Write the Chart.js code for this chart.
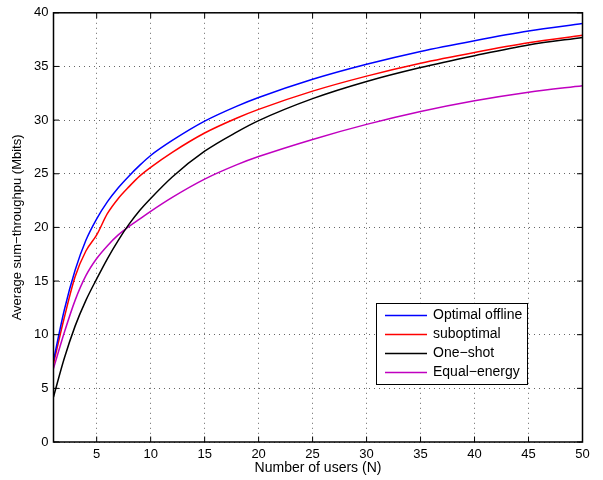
<!DOCTYPE html>
<html><head><meta charset="utf-8">
<script src="https://cdn.jsdelivr.net/npm/chart.js@4.4.1/dist/chart.umd.min.js"></script>
<style>html,body{margin:0;padding:0;background:#fff}canvas{display:block}</style>
</head><body><canvas id="c" width="603" height="480"></canvas>
<script>
const users = [1,2,3,4,5,6,7,8,9,10,12,15,18,20,25,30,35,40,45,50];
const optimalOffline = [7.6,12.3,16.0,18.8,20.8,22.4,23.7,24.8,25.8,26.7,28.1,29.9,31.3,32.1,33.8,35.2,36.4,37.4,38.3,39.0];
const suboptimal    = [7.3,11.6,15.4,17.8,19.3,21.3,22.7,23.8,24.8,25.6,27.0,28.8,30.2,31.0,32.7,34.1,35.3,36.3,37.2,37.9];
const oneShot       = [4.2,7.8,10.8,13.2,15.2,17.1,18.8,20.3,21.6,22.7,24.7,27.1,28.9,29.95,32.0,33.6,34.9,36.0,37.0,37.7];
const equalEnergy   = [6.85,10.2,13.2,15.5,17.1,18.3,19.3,20.1,20.8,21.5,22.8,24.5,25.85,26.6,28.2,29.6,30.8,31.8,32.6,33.2];
const seriesNames = ['Optimal offline','suboptimal','One\u2212shot','Equal\u2212energy'];
const seriesColors = ['#0000ff','#ff0000','#000000','#c000c0'];
const xTicks = [5,10,15,20,25,30,35,40,45,50];
const yTicks = [0,5,10,15,20,25,30,35,40];
const xTitle = 'Number of users (N)';
const yTitle = 'Average sum\u2212throughpu (Mbits)';

const FONT = 'Liberation Sans, Arial, Helvetica, sans-serif';
const allSeries = [optimalOffline, suboptimal, oneShot, equalEnergy];

const frame = {
  id: 'frame',
  afterDraw(chart) {
    const ctx = chart.ctx, a = chart.chartArea;
    const xs = chart.scales.x, ys = chart.scales.y;
    ctx.save();
    ctx.strokeStyle = '#000';
    ctx.lineWidth = 1;
    const tl = 5.5;
    ctx.beginPath();
    xTicks.forEach(v => {
      const p = xs.getPixelForValue(v);
      ctx.moveTo(p, a.bottom); ctx.lineTo(p, a.bottom - tl);
      ctx.moveTo(p, a.top); ctx.lineTo(p, a.top + tl);
    });
    yTicks.forEach(v => {
      const p = ys.getPixelForValue(v);
      ctx.moveTo(a.left, p); ctx.lineTo(a.left + tl, p);
      ctx.moveTo(a.right, p); ctx.lineTo(a.right - tl, p);
    });
    ctx.stroke();
    ctx.lineWidth = 1.5;
    ctx.strokeRect(a.left, a.top, a.right - a.left, a.bottom - a.top);
    // legend
    const bx = 376, by = 303, bw = 151, bh = 81;
    ctx.fillStyle = '#fff';
    ctx.fillRect(bx, by, bw, bh);
    ctx.lineWidth = 1;
    ctx.strokeRect(bx + 0.5, by + 0.5, bw, bh);
    ctx.font = '14px ' + FONT;
    ctx.textBaseline = 'middle';
    ctx.textAlign = 'left';
    chart.data.datasets.forEach((ds, i) => {
      const y = by + 12.5 + i * 19;
      ctx.strokeStyle = ds.borderColor;
      ctx.lineWidth = 1.5;
      ctx.beginPath(); ctx.moveTo(bx + 9, y); ctx.lineTo(bx + 51, y); ctx.stroke();
      ctx.fillStyle = '#000';
      ctx.fillText(ds.label, bx + 57, y);
    });
    ctx.restore();
  }
};

new Chart(document.getElementById('c'), {
  type: 'line',
  data: {
    datasets: allSeries.map((vals, i) => ({
      label: seriesNames[i],
      data: users.map((n, j) => ({x: n, y: vals[j]})),
      borderColor: seriesColors[i],
      backgroundColor: seriesColors[i],
      borderWidth: 1.5,
      pointRadius: 0,
      fill: false,
      cubicInterpolationMode: 'monotone'
    }))
  },
  options: {
    responsive: false,
    animation: false,
    events: [],
    layout: {padding: {top: 10, right: 20.5, left: 0, bottom: 0}},
    plugins: {legend: {display: false}, tooltip: {enabled: false}},
    scales: {
      x: {
        type: 'linear', min: 1, max: 50,
        afterBuildTicks: s => { s.ticks = xTicks.map(v => ({value: v})); },
        afterFit: s => { s.height = 38; },
        grid: {color: 'rgba(0,0,0,0.6)', lineWidth: 1, drawTicks: false},
        border: {display: false, dash: [1, 4]},
        ticks: {color: '#000', font: {family: FONT, size: 13}, padding: 5, maxRotation: 0},
        title: {display: true, text: xTitle, color: '#000', font: {family: FONT, size: 14}, padding: {top: 0, bottom: 3}}
      },
      y: {
        type: 'linear', min: 0, max: 40,
        afterBuildTicks: s => { s.ticks = yTicks.map(v => ({value: v})); },
        afterFit: s => { s.width = 53.5; },
        grid: {color: 'rgba(0,0,0,0.6)', lineWidth: 1, drawTicks: false},
        border: {display: false, dash: [1, 4]},
        ticks: {color: '#000', font: {family: FONT, size: 13}, padding: 5},
        title: {display: true, text: yTitle, color: '#000', font: {family: FONT, size: 13}, padding: {top: 10, bottom: 0}}
      }
    }
  },
  plugins: [frame]
});
</script></body></html>
